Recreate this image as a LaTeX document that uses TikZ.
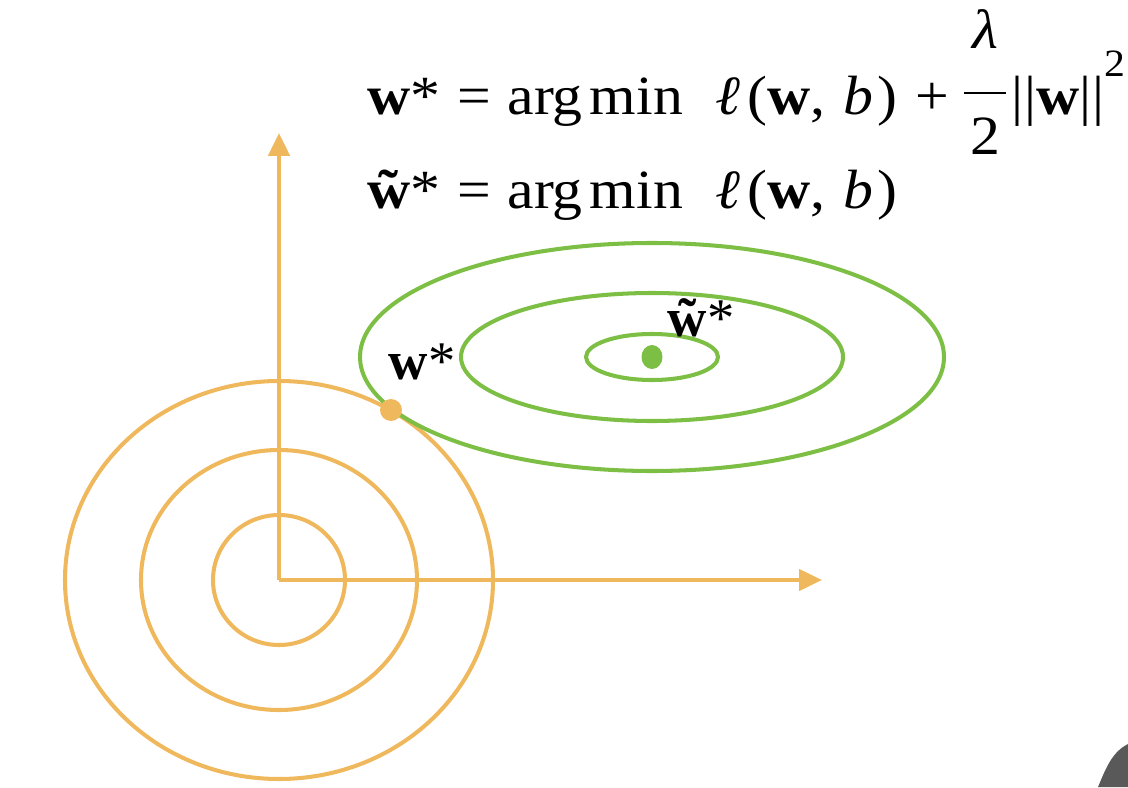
\documentclass[tikz,border=0pt]{standalone}
\usepackage{amsmath}
\usepackage{graphicx}
\usepackage{fontspec}
\setmainfont{Liberation Serif}
\usetikzlibrary{arrows.meta}
\definecolor{org}{HTML}{F0B85C}
\definecolor{grn}{HTML}{7DBF45}
\tikzset{
  orgline/.style={draw=org, line width=2.3pt},
  grnline/.style={draw=grn, line width=2.3pt},
  axis/.style={draw=org, line width=2.3pt, -{Triangle[length=13pt,width=12pt]}},
  eq/.style={anchor=base west, inner sep=0pt, font=\fontsize{31.5}{38}\selectfont},
  lab/.style={inner sep=0pt, font=\fontsize{31}{36}\selectfont}
}
\newcommand{\tw}{\textbf{\setbox0\hbox{w}\rlap{\hbox to\wd0{\hss ˜\hss}}w}}
\newcommand{\lhs}[1]{#1*\kern0.28em=\kern0.28em arg\kern0.12em min\kern0.55em}
\newcommand{\loss}{{\itshape ℓ}\kern0.12em(\textbf{w},\kern0.3em{\itshape b}\kern0.06em)}
\newcommand{\reg}{\kern0.3em+\kern0.22em\raisebox{0.2em}{\ensuremath{\dfrac{\rule[-0.7em]{0pt}{0pt}\text{\itshape λ}}{\rule{0pt}{1.0em}\text{\kern0.1em 2\kern0.1em}}}}\kern0.05em|\kern0.02em|\textbf{w}|\kern0.02em|\raisebox{0.7em}{\fontsize{22}{22}\selectfont 2}}
\begin{document}
\begin{tikzpicture}[x=0.02cm,y=-0.02cm]
\useasboundingbox (0,0) rectangle (1128,787);
% orange contours
\coordinate (o) at (279,580);
\draw[orgline] (o) ellipse [x radius=214, y radius=199];
\draw[orgline] (o) ellipse [x radius=138, y radius=130];
\draw[orgline] (o) ellipse [x radius=66, y radius=65];
% axes
\coordinate (ytip) at (279,133);
\coordinate (xtip) at (822,580);
\draw[axis] (o) -- (ytip);
\draw[axis] (o) -- (xtip);
% green contours
\coordinate (g) at (652,357);
\draw[grnline] (g) ellipse [x radius=292, y radius=114];
\draw[grnline] (g) ellipse [x radius=191, y radius=64];
\draw[grnline] (g) ellipse [x radius=66, y radius=23];
% points
\fill[grn] (g) ellipse [x radius=10.5, y radius=12];
\node[fill=org, circle, minimum size=12.5pt, inner sep=0pt] (wstar) at (391,410) {};
% labels
\node[lab] (lw) at (422,362) {\textbf{w}*};
\node[lab] (lwt) at (701,318) {\tw*};
% formulas
\node[eq] (f1) at (367,115) {\scalebox{1.08}[1]{\lhs{\textbf{w}}\loss\reg}};
\node[eq] (f2) at (367,209) {\scalebox{1.08}[1]{\lhs{\tw}\loss}};
% corner artifact
\fill[black!65] (1098,787) .. controls (1106,768) and (1112,752) .. (1128,744) -- (1128,787) -- cycle;
\end{tikzpicture}
\end{document}
